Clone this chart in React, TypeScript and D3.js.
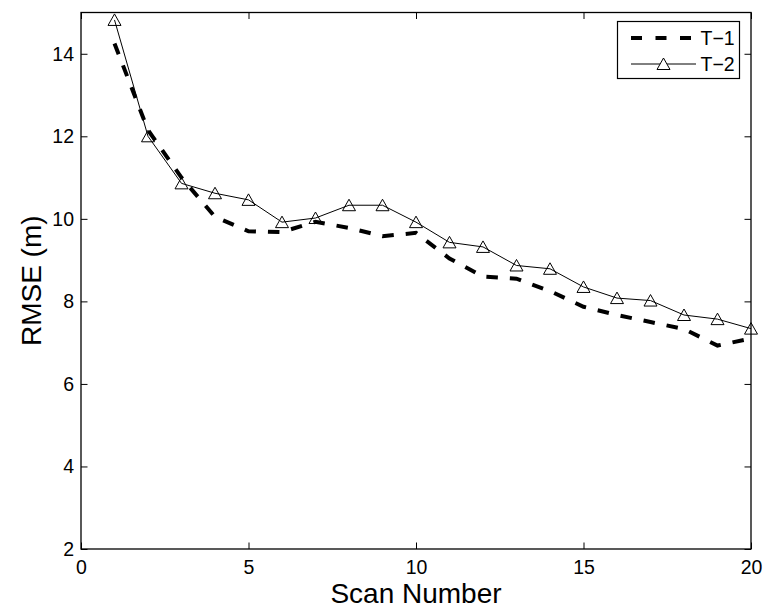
import React, { useEffect, useRef } from 'react';
import * as d3 from 'd3';

const scans = [1, 2, 3, 4, 5, 6, 7, 8, 9, 10, 11, 12, 13, 14, 15, 16, 17, 18, 19, 20];
const t1 = [14.25, 12.15, 11.0, 10.05, 9.7, 9.68, 9.93, 9.78, 9.58, 9.66, 9.04, 8.6, 8.55, 8.25, 7.87, 7.67, 7.5, 7.33, 6.93, 7.1];
const t2 = [14.82, 12.0, 10.86, 10.62, 10.46, 9.92, 10.02, 10.33, 10.33, 9.92, 9.43, 9.32, 8.87, 8.79, 8.35, 8.08, 8.02, 7.67, 7.57, 7.34];
const xTicks = [0, 5, 10, 15, 20];
const yTicks = [2, 4, 6, 8, 10, 12, 14];
const seriesNames = ['T\u22121', 'T\u22122'];

const W = 765;
const H = 611;
const margin = { top: 12.5, right: 14, bottom: 62, left: 81 };
const FONT = '"Liberation Sans", Arial, Helvetica, sans-serif';

const triangle = 'M0,-6L6.5,5.5L-6.5,5.5Z';

const App = () => {
  const ref = useRef<SVGSVGElement>(null);

  useEffect(() => {
    const svg = d3.select(ref.current);
    svg.selectAll('*').remove();

    const x = d3.scaleLinear().domain([0, 20]).range([margin.left, W - margin.right]);
    const y = d3.scaleLinear().domain([2, 15]).range([H - margin.bottom, margin.top]);

    const x0 = x.range()[0], x1 = x.range()[1];
    const y0 = y.range()[0], y1 = y.range()[1];

    const styleAxis = (g: any) => {
      g.select('.domain').remove();
      g.selectAll('line').attr('stroke', '#000').attr('stroke-width', 1);
      g.selectAll('text').attr('fill', '#000').style('font-family', FONT).style('font-size', '19.5px');
    };

    // axes
    svg.append('g')
      .attr('transform', `translate(0,${y0})`)
      .call(d3.axisBottom(x).tickValues(xTicks).tickSizeInner(-6.5).tickSizeOuter(0).tickPadding(11))
      .call(styleAxis);
    svg.append('g')
      .attr('transform', `translate(0,${y1})`)
      .call(d3.axisTop(x).tickValues(xTicks).tickSizeInner(-6.5).tickSizeOuter(0).tickFormat(() => ''))
      .call(styleAxis);
    svg.append('g')
      .attr('transform', `translate(${x0},0)`)
      .call(d3.axisLeft(y).tickValues(yTicks).tickSizeInner(-6.5).tickSizeOuter(0).tickPadding(7))
      .call(styleAxis);
    svg.append('g')
      .attr('transform', `translate(${x1},0)`)
      .call(d3.axisRight(y).tickValues(yTicks).tickSizeInner(-6.5).tickSizeOuter(0).tickFormat(() => ''))
      .call(styleAxis);

    // box
    svg.append('rect')
      .attr('x', x0).attr('y', y1)
      .attr('width', x1 - x0).attr('height', y0 - y1)
      .attr('fill', 'none').attr('stroke', '#000').attr('stroke-width', 1.3);

    const line = d3.line<number>()
      .x((_, i) => x(scans[i]))
      .y((d) => y(d));

    svg.append('path')
      .attr('d', line(t1))
      .attr('fill', 'none')
      .attr('stroke', '#000')
      .attr('stroke-width', 4)
      .attr('stroke-dasharray', '11.5,12');

    svg.append('path')
      .attr('d', line(t2))
      .attr('fill', 'none')
      .attr('stroke', '#000')
      .attr('stroke-width', 1);

    svg.selectAll('.tri')
      .data(t2)
      .enter().append('path')
      .attr('class', 'tri')
      .attr('d', triangle)
      .attr('transform', (d, i) => `translate(${x(scans[i])},${y(d)})`)
      .attr('fill', 'none')
      .attr('stroke', '#000')
      .attr('stroke-width', 1);

    // axis labels
    svg.append('text')
      .attr('x', (x0 + x1) / 2)
      .attr('y', 603)
      .attr('text-anchor', 'middle')
      .style('font-family', FONT)
      .style('font-size', '28px')
      .text('Scan Number');

    svg.append('text')
      .attr('transform', `translate(41,${(y0 + y1) / 2}) rotate(-90)`)
      .attr('text-anchor', 'middle')
      .style('font-family', FONT)
      .style('font-size', '28px')
      .text('RMSE (m)');

    // legend
    const lg = svg.append('g');
    lg.append('rect')
      .attr('x', 617.5).attr('y', 21.5)
      .attr('width', 122).attr('height', 57)
      .attr('fill', '#fff').attr('stroke', '#000').attr('stroke-width', 1.2);

    const rows = [38, 64];
    lg.append('line')
      .attr('x1', 631).attr('x2', 696).attr('y1', rows[0]).attr('y2', rows[0])
      .attr('stroke', '#000').attr('stroke-width', 4).attr('stroke-dasharray', '11,13.5');
    lg.append('line')
      .attr('x1', 631).attr('x2', 696).attr('y1', rows[1]).attr('y2', rows[1])
      .attr('stroke', '#000').attr('stroke-width', 1);
    lg.append('path')
      .attr('d', triangle)
      .attr('transform', `translate(663.5,${rows[1]})`)
      .attr('fill', '#fff').attr('stroke', '#000').attr('stroke-width', 1);

    seriesNames.forEach((name, i) => {
      lg.append('text')
        .attr('x', 700.5)
        .attr('y', rows[i])
        .attr('dy', '0.35em')
        .style('font-family', FONT)
        .style('font-size', '19.5px')
        .text(name);
    });
  }, []);

  return (
    <svg
      ref={ref}
      width={W}
      height={H}
      style={{ position: 'absolute', left: 0, top: 0, background: '#fff' }}
    />
  );
};

export default App;
